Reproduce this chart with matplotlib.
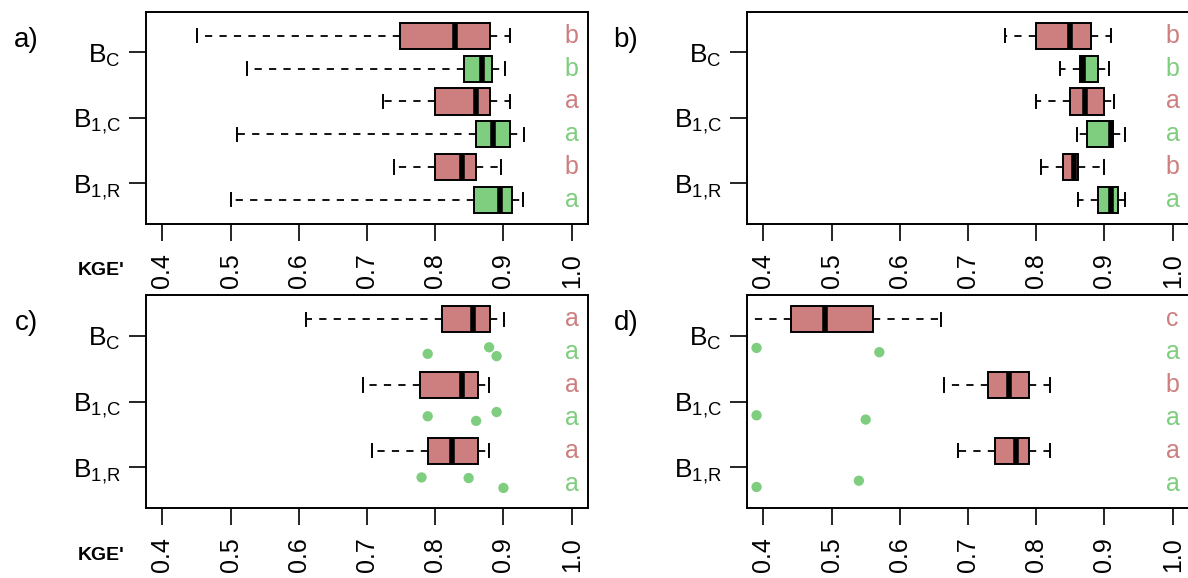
import numpy as np
import matplotlib
matplotlib.use("Agg")
import matplotlib.pyplot as plt

plt.rcParams['font.family'] = ['Liberation Sans', 'DejaVu Sans']
plt.rcParams['mathtext.fontset'] = 'custom'
plt.rcParams['mathtext.rm'] = 'Liberation Sans'
plt.rcParams['mathtext.it'] = 'Liberation Sans'

RED = "#CD7F7F"
GREEN = "#7FCD7F"

# group labels (one tick per red/green pair, bottom to top)
groups = [r'$\mathregular{B_{1{,}R}}$', r'$\mathregular{B_{1{,}C}}$', r'$\mathregular{B_C}$']
xticks = [0.4, 0.5, 0.6, 0.7, 0.8, 0.9, 1.0]

# box stats per row, bottom (row 1) to top (row 6): whislo, q1, med, q3, whishi
# odd rows are green, even rows are red
a_stats = [
    [0.501, 0.857, 0.895, 0.912, 0.929],
    [0.740, 0.800, 0.840, 0.860, 0.896],
    [0.510, 0.860, 0.885, 0.910, 0.930],
    [0.724, 0.800, 0.860, 0.880, 0.910],
    [0.524, 0.842, 0.869, 0.883, 0.902],
    [0.451, 0.749, 0.829, 0.880, 0.910],
]
b_stats = [
    [0.861, 0.890, 0.910, 0.920, 0.930],
    [0.807, 0.840, 0.856, 0.861, 0.900],
    [0.860, 0.875, 0.910, 0.912, 0.930],
    [0.800, 0.850, 0.871, 0.899, 0.914],
    [0.835, 0.864, 0.869, 0.891, 0.906],
    [0.754, 0.800, 0.850, 0.880, 0.910],
]
# panels c and d: only red rows are boxes, green rows are single points
c_stats = {
    2: [0.707, 0.790, 0.825, 0.863, 0.879],
    4: [0.694, 0.778, 0.840, 0.863, 0.879],
    6: [0.610, 0.810, 0.855, 0.880, 0.901],
}
c_points = {
    1: [0.780, 0.849, 0.900],
    3: [0.789, 0.860, 0.890],
    5: [0.789, 0.879, 0.890],
}
c_jitter = {
    1: [0.19, 0.17, -0.13],
    3: [0.05, -0.09, 0.18],
    5: [-0.05, 0.15, -0.12],
}
d_stats = {
    2: [0.685, 0.740, 0.770, 0.790, 0.820],
    4: [0.665, 0.730, 0.760, 0.790, 0.820],
    6: [0.330, 0.440, 0.490, 0.561, 0.660],
}
d_points = {
    1: [0.390, 0.540],
    3: [0.390, 0.550],
    5: [0.390, 0.570],
}
d_jitter = {
    1: [-0.10, 0.09],
    3: [0.08, -0.05],
    5: [0.13, 0.0],
}

# significance letters, bottom to top
a_letters = ['a', 'b', 'a', 'a', 'b', 'b']
b_letters = ['a', 'b', 'a', 'a', 'b', 'b']
c_letters = ['a', 'a', 'a', 'a', 'a', 'a']
d_letters = ['a', 'a', 'a', 'b', 'a', 'c']


def row_color(row):
    return GREEN if row % 2 == 1 else RED


def draw_boxes(ax, stats_by_row):
    for row, s in stats_by_row.items():
        st = dict(whislo=s[0], q1=s[1], med=s[2], q3=s[3], whishi=s[4], fliers=[])
        ax.bxp([st], positions=[row], widths=0.8, orientation='horizontal',
               patch_artist=True, showfliers=False, capwidths=[0.4],
               boxprops=dict(facecolor=row_color(row), edgecolor='black', lw=1.4),
               whiskerprops=dict(color='black', lw=1.3, linestyle=(0, (4, 4))),
               capprops=dict(color='black', lw=1.4),
               medianprops=dict(color='black', lw=4, solid_capstyle='butt'))


def style_axes(ax, letters):
    ax.set_xlim(0.376, 1.024)
    ax.set_ylim(0.26, 6.74)
    for i, letter in enumerate(letters):
        row = i + 1
        ax.text(1.0, row, letter, color=row_color(row), fontsize=18,
                ha='center', va='center')
    ax.set_xticks(xticks)
    ax.set_xticklabels([f"{t:.1f}" for t in xticks], rotation=90, fontsize=18)
    ax.set_yticks([1.5, 3.5, 5.5])
    ax.set_yticklabels(groups, fontsize=19)
    ax.tick_params(axis='x', length=12, width=1.2, pad=9)
    ax.tick_params(axis='y', length=12, width=1.2, pad=6)
    for sp in ax.spines.values():
        sp.set_linewidth(1.4)


fig = plt.figure(figsize=(11.88, 5.78), dpi=100)
W, H = 1188, 578
boxes = {
    'a': (146, 11.7, 588, 224),
    'b': (747, 11.7, 1189, 224),
    'c': (146, 295, 588, 508),
    'd': (747, 295, 1189, 508),
}
axes = {}
for key, (l, t, r, b) in boxes.items():
    axes[key] = fig.add_axes([l / W, 1 - b / H, (r - l) / W, (b - t) / H])

draw_boxes(axes['a'], {i + 1: s for i, s in enumerate(a_stats)})
draw_boxes(axes['b'], {i + 1: s for i, s in enumerate(b_stats)})
draw_boxes(axes['c'], c_stats)
draw_boxes(axes['d'], d_stats)

for ax, pts, jit in [(axes['c'], c_points, c_jitter), (axes['d'], d_points, d_jitter)]:
    for row, vals in pts.items():
        ax.scatter(vals, np.array(jit[row]) + row, s=55, color=GREEN,
                   edgecolors='none', zorder=3, clip_on=True)

style_axes(axes['a'], a_letters)
style_axes(axes['b'], b_letters)
style_axes(axes['c'], c_letters)
style_axes(axes['d'], d_letters)

# panel tags and x-axis title
for tag, (x, y) in {'a)': (26, 40), 'b)': (626, 40), 'c)': (26, 323), 'd)': (626, 323)}.items():
    fig.text(x / W, 1 - y / H, tag, fontsize=20, ha='center', va='center')
for x, y in [(101, 270), (101, 555)]:
    fig.text(x / W, 1 - y / H, "KGE'", fontsize=14, fontweight='bold',
             ha='center', va='center')

fig.savefig("out.png", dpi=100)
